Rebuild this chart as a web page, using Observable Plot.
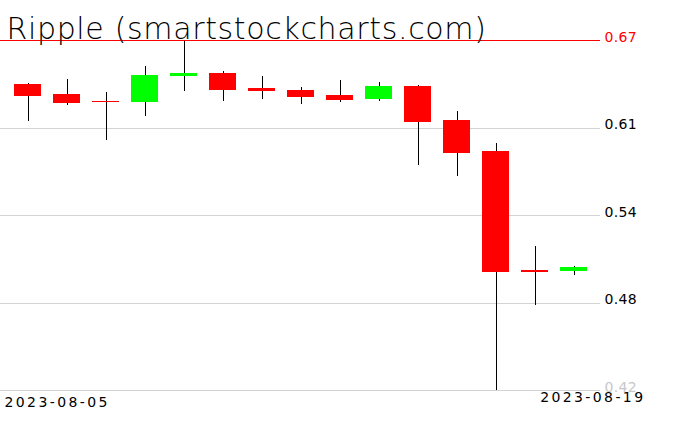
<!DOCTYPE html>
<html><head><meta charset="utf-8">
<script src="https://cdn.jsdelivr.net/npm/d3@7"></script>
<script src="https://cdn.jsdelivr.net/npm/@observablehq/plot@0.6"></script>
<style>
body{margin:0;background:#fff}
#chart svg{display:block;background:#fff}
</style>
</head><body><div id="chart"></div>
<script>
const title = "Ripple (smartstockcharts.com)";
const dates = ["2023-08-05","2023-08-06","2023-08-07","2023-08-08","2023-08-09","2023-08-10","2023-08-11","2023-08-12","2023-08-13","2023-08-14","2023-08-15","2023-08-16","2023-08-17","2023-08-18","2023-08-19"];
const open  = [0.6386,0.6314,0.6265,0.6259,0.6445,0.6464,0.6357,0.6343,0.6307,0.6279,0.6371,0.6129,0.5907,0.5055,0.5052];
const high  = [0.6391,0.6421,0.6329,0.6514,0.6695,0.6479,0.6443,0.6364,0.6414,0.6400,0.6379,0.6193,0.5964,0.5229,0.5086];
const low   = [0.6124,0.6238,0.5986,0.6159,0.6338,0.6266,0.6281,0.6245,0.6259,0.6266,0.5807,0.5729,0.4200,0.4805,0.5024];
const close = [0.6309,0.6259,0.6263,0.6450,0.6464,0.6352,0.6345,0.6302,0.6281,0.6371,0.6124,0.5902,0.5052,0.5053,0.5079];
const yTicks = [0.42,0.4825,0.545,0.6075,0.67];
const yTickLabels = ["0.42","0.48","0.54","0.61","0.67"];

const candles = dates.map((d,i)=>({date:d, open:open[i], high:high[i], low:low[i], close:close[i]}));
const col = d => d.close >= d.open ? "#00ff00" : "#ff0000";
const last = yTicks.length - 1;
const tickCol = (d,i) => i === 0 ? "#c8c8c8" : i === last ? "#ff0000" : "#000000";

const plot = Plot.plot({
  width: 676, height: 431,
  marginLeft: 0, marginRight: 76, marginTop: 40, marginBottom: 41,
  style: {fontFamily: "DejaVu Sans", fontSize: "14px", background: "#fff", overflow: "visible"},
  x: {type: "band", domain: dates, range: [7, 594], paddingInner: 0.3, paddingOuter: 0.15, axis: null},
  y: {domain: [0.42, 0.67], axis: null},
  marks: [
    Plot.ruleY(yTicks.slice(0, last), {stroke: "#d3d3d3", strokeWidth: 1, shapeRendering: "crispEdges"}),
    Plot.ruleY(yTicks.slice(last), {stroke: "#ff0000", strokeWidth: 1, shapeRendering: "crispEdges"}),
    Plot.ruleX(candles, {x: "date", y1: "low", y2: "high", stroke: "#000", strokeWidth: 1, shapeRendering: "crispEdges"}),
    Plot.barY(candles, {x: "date", y1: "open", y2: "close", fill: col, shapeRendering: "crispEdges"}),
    Plot.tickY(candles, {x: "date", y: "close", stroke: col, strokeWidth: 1, shapeRendering: "crispEdges"}),
    Plot.text(yTicks, {y: d => d, text: (d,i) => yTickLabels[i], frameAnchor: "right", textAnchor: "start", lineAnchor: "bottom", dx: 4, dy: 1, fill: tickCol, fontSize: 14, ariaLabel: () => "ytick"}),
    Plot.text([dates[0]], {text: d => d, frameAnchor: "bottom-left", textAnchor: "start", lineAnchor: "bottom", dx: 4, dy: 16, fill: "#000", fontSize: 14, ariaLabel: () => "xlab"}),
    Plot.text([dates[dates.length-1]], {text: d => d, frameAnchor: "bottom-right", textAnchor: "end", lineAnchor: "bottom", dx: 45, dy: 11, fill: "#000", fontSize: 14, ariaLabel: () => "xlab"}),
    Plot.text([title], {text: d => d, frameAnchor: "top-left", textAnchor: "start", lineAnchor: "bottom", dx: 6, dy: -2, fill: "#000", fontSize: 30, fontWeight: 200, ariaLabel: () => "title"})
  ]
});
document.getElementById("chart").appendChild(plot);
const svg = d3.select(plot);
svg.selectAll('text[aria-label="xlab"]').style("letter-spacing", "2.4px");
svg.selectAll('text[aria-label="ytick"]').style("letter-spacing", "0.3px");
svg.selectAll('text[aria-label="title"]').style("letter-spacing", "0.65px");
</script>
</body></html>
